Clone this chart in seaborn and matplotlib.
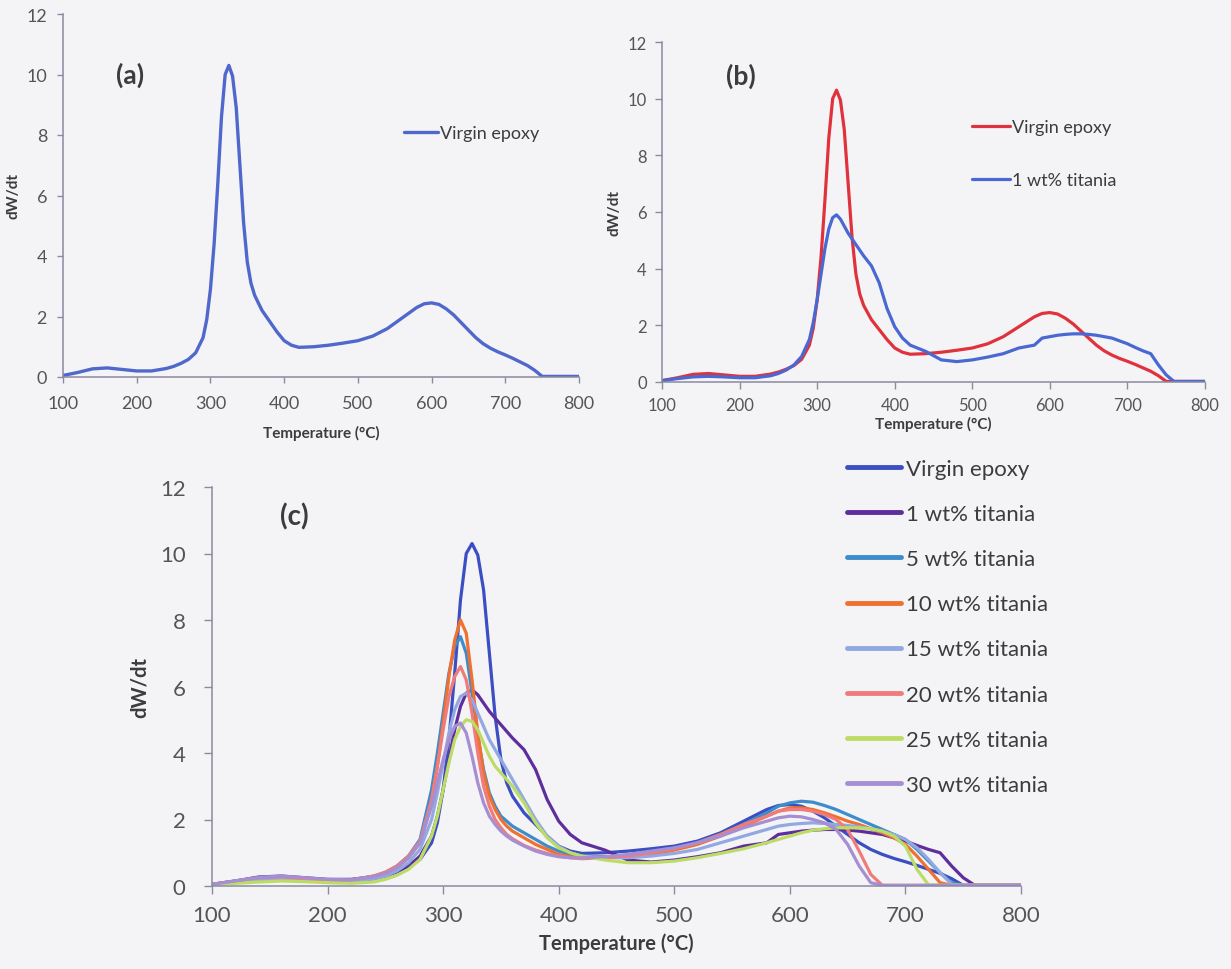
import numpy as np
import pandas as pd
import matplotlib
matplotlib.use("Agg")
import matplotlib.pyplot as plt
import seaborn as sns

# ---------------- data ----------------
temperature = [100, 120, 140, 160, 180, 200, 220, 240, 250, 260, 270, 280, 290, 295,
               300, 305, 310, 315, 320, 325, 330, 335, 340, 345, 350, 355, 360, 370,
               380, 390, 400, 410, 420, 440, 460, 480, 500, 520, 540, 560, 580, 590,
               600, 610, 620, 630, 640, 650, 660, 670, 680, 690, 700, 710, 720, 730,
               740, 750, 760, 780, 800]

virgin = [0.05, 0.15, 0.27, 0.3, 0.25, 0.2, 0.2, 0.28, 0.35, 0.45, 0.58,
          0.8, 1.3, 1.9, 2.9, 4.4, 6.4, 8.6, 10.0, 10.3, 9.95, 8.9, 7.0, 5.1, 3.8, 3.1, 2.7,
          2.2, 1.85, 1.5, 1.2, 1.05, 0.98,
          1.0, 1.05, 1.12, 1.2, 1.35, 1.6, 1.95, 2.3,
          2.42, 2.45, 2.4, 2.25, 2.05, 1.8, 1.55, 1.3, 1.1, 0.95, 0.83, 0.73, 0.62, 0.5,
          0.38, 0.22, 0.02, 0.02,
          0.02, 0.02]

wt1 = [0.05, 0.12, 0.18, 0.2, 0.18, 0.15, 0.15, 0.22, 0.3, 0.42, 0.6,
       0.9, 1.5, 2.1, 2.9, 3.8, 4.7, 5.4, 5.8, 5.9, 5.75, 5.5, 5.25, 5.05, 4.85, 4.65, 4.45,
       4.1, 3.5, 2.6, 1.95, 1.55, 1.3,
       1.08, 0.78, 0.72, 0.78, 0.88, 1.0, 1.2, 1.3,
       1.55, 1.6, 1.65, 1.68, 1.7, 1.7, 1.68, 1.65, 1.6, 1.55, 1.45, 1.35, 1.22, 1.1,
       1.0, 0.6, 0.25, 0.02,
       0.02, 0.02]

wt5 = [0.05, 0.15, 0.25, 0.28, 0.22, 0.18, 0.18, 0.3, 0.4, 0.6, 0.9,
       1.4, 2.9, 4.0, 5.2, 6.4, 7.2, 7.5, 7.0, 5.8, 4.5, 3.5, 2.8, 2.4, 2.1, 1.95, 1.8,
       1.6, 1.4, 1.2, 1.05, 0.95, 0.9,
       0.88, 0.92, 1.0, 1.12, 1.3, 1.55, 1.85, 2.2,
       2.4, 2.5, 2.55, 2.52, 2.42, 2.3, 2.15, 2.0, 1.85, 1.7, 1.55, 1.4, 1.1, 0.75,
       0.4, 0.1, 0.02, 0.02,
       0.02, 0.02]

wt10 = [0.05, 0.13, 0.22, 0.25, 0.2, 0.17, 0.17, 0.28, 0.38, 0.55, 0.85,
        1.3, 2.5, 3.6, 4.9, 6.3, 7.4, 8.0, 7.6, 6.2, 4.6, 3.4, 2.7, 2.3, 2.0, 1.8, 1.65,
        1.45, 1.25, 1.1, 0.95, 0.88, 0.85,
        0.85, 0.88, 0.95, 1.08, 1.25, 1.5, 1.8, 2.1,
        2.25, 2.35, 2.35, 2.3, 2.2, 2.08, 1.95, 1.85, 1.72, 1.6, 1.45, 1.25, 0.9, 0.5,
        0.1, 0.02, 0.02, 0.02,
        0.02, 0.02]

wt15 = [0.05, 0.12, 0.2, 0.22, 0.18, 0.15, 0.15, 0.22, 0.3, 0.45, 0.7,
        1.1, 2.0, 2.8, 3.7, 4.6, 5.3, 5.7, 5.8, 5.6, 5.2, 4.8, 4.4, 4.1, 3.8, 3.5, 3.2,
        2.6, 2.0, 1.5, 1.2, 1.0, 0.9,
        0.85, 0.85, 0.9, 0.98, 1.1, 1.3, 1.5, 1.7,
        1.8, 1.85, 1.88, 1.9, 1.88, 1.85, 1.82, 1.78, 1.72, 1.65, 1.55, 1.4, 1.15, 0.8,
        0.4, 0.05, 0.02, 0.02,
        0.02, 0.02]

wt20 = [0.05, 0.15, 0.25, 0.28, 0.22, 0.18, 0.18, 0.3, 0.42, 0.6, 0.9,
        1.35, 2.6, 3.6, 4.7, 5.7, 6.3, 6.6, 6.2, 5.2, 4.0, 3.0, 2.4, 2.0, 1.75, 1.55, 1.42,
        1.22, 1.08, 0.98, 0.9, 0.85, 0.82,
        0.85, 0.9, 1.0, 1.12, 1.3, 1.55, 1.85, 2.1,
        2.25, 2.3, 2.3, 2.25, 2.15, 2.0, 1.7, 1.05, 0.35, 0.02, 0.02, 0.02, 0.02, 0.02,
        0.02, 0.02, 0.02, 0.02,
        0.02, 0.02]

wt25 = [0.04, 0.08, 0.12, 0.15, 0.13, 0.1, 0.08, 0.12, 0.2, 0.32, 0.5,
        0.8, 1.5, 2.1, 2.9, 3.7, 4.4, 4.8, 5.0, 4.95, 4.7, 4.3, 3.9, 3.6, 3.4, 3.2, 3.0,
        2.5, 1.9, 1.45, 1.15, 1.0, 0.9,
        0.78, 0.7, 0.7, 0.75, 0.85, 0.98, 1.12, 1.3,
        1.4, 1.5, 1.6, 1.68, 1.72, 1.75, 1.75, 1.75, 1.72, 1.65, 1.5, 1.2, 0.5, 0.03,
        0.02, 0.02, 0.02, 0.02,
        0.02, 0.02]

wt30 = [0.05, 0.15, 0.25, 0.3, 0.25, 0.2, 0.18, 0.28, 0.38, 0.55, 0.85,
        1.3, 2.4, 3.1, 3.8, 4.4, 4.8, 4.9, 4.6, 3.9, 3.1, 2.5, 2.1, 1.85, 1.65, 1.5, 1.38,
        1.2, 1.05, 0.95, 0.88, 0.85, 0.85,
        0.88, 0.95, 1.05, 1.15, 1.3, 1.5, 1.75, 1.95,
        2.05, 2.1, 2.08, 2.0, 1.9, 1.7, 1.25, 0.6, 0.1, 0.02, 0.02, 0.02, 0.02, 0.02,
        0.02, 0.02, 0.02, 0.02,
        0.02, 0.02]

series_labels = ["Virgin epoxy", "1 wt% titania", "5 wt% titania", "10 wt% titania",
                 "15 wt% titania", "20 wt% titania", "25 wt% titania", "30 wt% titania"]
series_values = [virgin, wt1, wt5, wt10, wt15, wt20, wt25, wt30]
for v in series_values:
    assert len(v) == len(temperature)

x_ticks = [100, 200, 300, 400, 500, 600, 700, 800]
y_ticks = [0, 2, 4, 6, 8, 10, 12]

# ---------------- style ----------------
bg = "#f4f4f6"
sns.set_theme(style="white")
plt.rcParams["font.family"] = ["Lato", "DejaVu Sans"]
plt.rcParams["axes.facecolor"] = bg
plt.rcParams["figure.facecolor"] = bg
narrow = ["Lato", "DejaVu Sans"]
wide = ["Lato", "DejaVu Sans"]
txt = "#3c3c3c"
tick_col = "#555555"
spine_col = "#8a8aa0"

frames = []
for lab, vals in zip(series_labels, series_values):
    frames.append(pd.DataFrame({"T": temperature, "dW": vals, "sample": lab}))
df = pd.concat(frames, ignore_index=True)

W, H = 1231.0, 970.0
fig = plt.figure(figsize=(W / 100, H / 100), dpi=100)


def px_axes(left, right, top, bottom):
    return fig.add_axes([left / W, 1 - bottom / H, (right - left) / W, (bottom - top) / H])


ax_a = px_axes(63, 579, 15, 378)
ax_b = px_axes(662, 1205, 43, 383)
ax_c = px_axes(212, 1021, 488, 887)


def style_axis(ax, family, tick_fs, label_fs, tick_len, xpad, ypad, xlp, ylp):
    ax.set_xlim(100, 800)
    ax.set_ylim(0, 12)
    ax.set_xticks(x_ticks)
    ax.set_yticks(y_ticks)
    for s in ["top", "right"]:
        ax.spines[s].set_visible(False)
    for s in ["left", "bottom"]:
        ax.spines[s].set_color(spine_col)
        ax.spines[s].set_linewidth(1.1)
    ax.tick_params(axis="both", direction="out", length=tick_len, width=1.0,
                   color=spine_col, labelsize=tick_fs, labelcolor=tick_col,
                   bottom=True, left=True)
    ax.tick_params(axis="x", pad=xpad)
    ax.tick_params(axis="y", pad=ypad)
    for lab in ax.get_xticklabels() + ax.get_yticklabels():
        lab.set_family(family)
    ax.set_xlabel("Temperature (\u00b0C)", fontsize=label_fs, fontweight="bold",
                  color=txt, family=family, labelpad=xlp)
    ax.set_ylabel("dW/dt", fontsize=label_fs, fontweight="bold", color=txt,
                  family=family, labelpad=ylp)


# (a)
sns.lineplot(data=df[df["sample"] == "Virgin epoxy"], x="T", y="dW", ax=ax_a,
             color="#5068cc", linewidth=2.4, errorbar=None, label="Virgin epoxy")
style_axis(ax_a, narrow, 13, 11, 4.5, 8.5, 7, 10, 4)
ax_a.legend(loc="upper left", bbox_to_anchor=(404 / W, 1 - 126 / H),
            bbox_transform=fig.transFigure, frameon=False, borderpad=0,
            borderaxespad=0, handlelength=1.9, handletextpad=0.1,
            prop={"family": narrow, "size": 13}, labelcolor=txt)
ax_a.text(116 / W, 1 - 75 / H, "(a)", transform=fig.transFigure, fontsize=19,
          fontweight="bold", color=txt, va="center", ha="left", family=wide)

# (b)
sub_b = df[df["sample"].isin(["Virgin epoxy", "1 wt% titania"])]
sns.lineplot(data=sub_b, x="T", y="dW", hue="sample", ax=ax_b,
             palette={"Virgin epoxy": "#e0323c", "1 wt% titania": "#4a68d2"},
             linewidth=2.3, errorbar=None)
style_axis(ax_b, narrow, 12, 11, 5, 6, 6, 2, 4)
ax_b.legend(loc="upper left", bbox_to_anchor=(972 / W, 1 - 120 / H),
            bbox_transform=fig.transFigure, frameon=False, borderpad=0,
            borderaxespad=0, handlelength=2.1, handletextpad=0.1,
            labelspacing=2.05, prop={"family": narrow, "size": 13},
            labelcolor=txt)
ax_b.text(726 / W, 1 - 76 / H, "(b)", transform=fig.transFigure, fontsize=19,
          fontweight="bold", color=txt, va="center", ha="left", family=wide)

# (c)
palette_c = {
    "Virgin epoxy": "#3b4fc2",
    "1 wt% titania": "#5e2f9c",
    "5 wt% titania": "#3d8ccc",
    "10 wt% titania": "#f07030",
    "15 wt% titania": "#92a8e2",
    "20 wt% titania": "#f07c7a",
    "25 wt% titania": "#bcdc66",
    "30 wt% titania": "#a68ed2",
}
sns.lineplot(data=df, x="T", y="dW", hue="sample", hue_order=series_labels, ax=ax_c,
             palette=palette_c, linewidth=2.3, errorbar=None)
style_axis(ax_c, wide, 16, 14.5, 6, 8, 13, 5, 7)
handles, labels = ax_c.get_legend_handles_labels()
for h in handles:
    h.set_linewidth(3.5)
ax_c.legend(handles, labels, loc="upper left", bbox_to_anchor=(847 / W, 1 - 460 / H),
            bbox_transform=fig.transFigure, frameon=False, borderpad=0,
            borderaxespad=0, handlelength=2.45, handletextpad=0.2,
            labelspacing=1.13, prop={"family": wide, "size": 16}, labelcolor=txt)
ax_c.text(280 / W, 1 - 517 / H, "(c)", transform=fig.transFigure, fontsize=20,
          fontweight="bold", color=txt, va="center", ha="left", family=wide)

fig.savefig("out.png", dpi=100, facecolor=bg)
